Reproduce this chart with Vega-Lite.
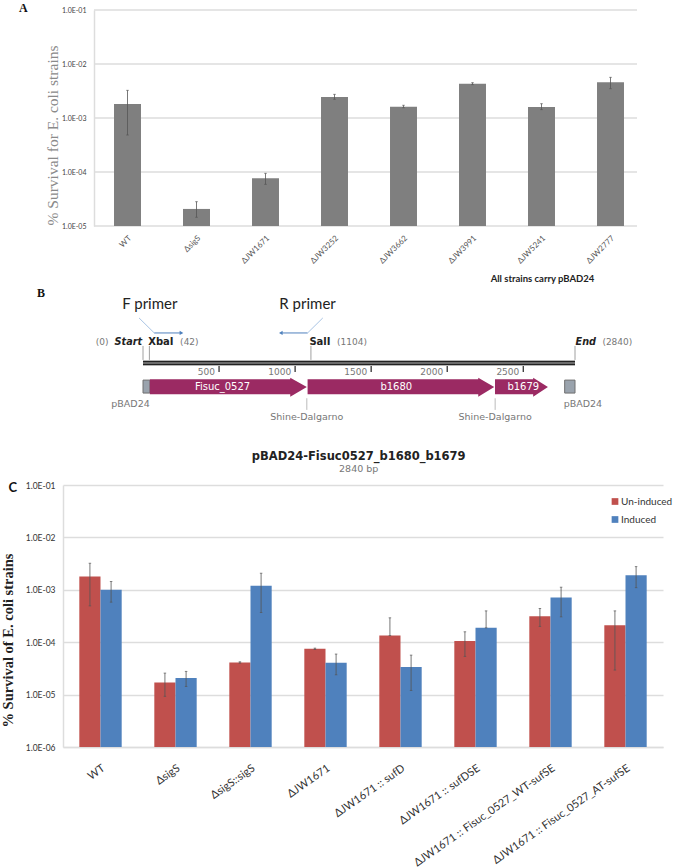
{"$schema":"https://vega.github.io/schema/vega-lite/v6.json","background":"white","padding":{"left":0,"top":2,"right":0,"bottom":0},"config":{"view":{"stroke":null},"axis":{"labelFont":"Lato"}},"bounds":"flush","spacing":0,
"datasets":{
"agrid":[{"decade":0.1,"from":0,"to":1},{"decade":0.01,"from":0,"to":1},{"decade":0.001,"from":0,"to":1},{"decade":0.0001,"from":0,"to":1},{"decade":0.00001,"from":0,"to":1}],
"a":[{"strain":"WT","value":0.00182,"low":0.000484,"high":0.00325},{"strain":"ΔsigS","value":0.0000207,"low":0.0000145,"high":0.0000282},{"strain":"ΔJW1671","value":0.0000764,"low":0.000059,"high":0.0000944},{"strain":"ΔJW3252","value":0.00245,"low":0.00222,"high":0.00274},{"strain":"ΔJW3662","value":0.00162,"low":0.00155,"high":0.00172},{"strain":"ΔJW3991","value":0.00432,"low":0.00414,"high":0.00451},{"strain":"ΔJW5241","value":0.0016,"low":0.00143,"high":0.00184},{"strain":"ΔJW2777","value":0.00457,"low":0.00349,"high":0.00566}],
"c":[{"strain":"WT","series":"Un-induced","value":0.00179,"low":0.000494,"high":0.00321},{"strain":"WT","series":"Induced","value":0.001,"low":0.000581,"high":0.00144},{"strain":"ΔsigS","series":"Un-induced","value":0.0000171,"low":0.00000925,"high":0.0000257},{"strain":"ΔsigS","series":"Induced","value":0.0000207,"low":0.0000143,"high":0.0000277},{"strain":"ΔsigS::sigS","series":"Un-induced","value":0.0000411,"low":0.0000399,"high":0.0000423},{"strain":"ΔsigS::sigS","series":"Induced","value":0.00119,"low":0.000369,"high":0.00207},{"strain":"ΔJW1671","series":"Un-induced","value":0.000075,"low":0.0000727,"high":0.000077},{"strain":"ΔJW1671","series":"Induced","value":0.0000405,"low":0.0000239,"high":0.0000593},{"strain":"ΔJW1671 :: sufD","series":"Un-induced","value":0.000134,"low":0.000134,"high":0.000292},{"strain":"ΔJW1671 :: sufD","series":"Induced","value":0.0000335,"low":0.000012,"high":0.0000566},{"strain":"ΔJW1671 :: sufDSE","series":"Un-induced","value":0.000105,"low":0.0000535,"high":0.000158},{"strain":"ΔJW1671 :: sufDSE","series":"Induced","value":0.000188,"low":0.000188,"high":0.000396},{"strain":"ΔJW1671 :: Fisuc_0527_WT-sufSE","series":"Un-induced","value":0.000314,"low":0.0002,"high":0.00044},{"strain":"ΔJW1671 :: Fisuc_0527_WT-sufSE","series":"Induced","value":0.000713,"low":0.000305,"high":0.00112},{"strain":"ΔJW1671 :: Fisuc_0527_AT-sufSE","series":"Un-induced","value":0.000211,"low":0.0000294,"high":0.000396},{"strain":"ΔJW1671 :: Fisuc_0527_AT-sufSE","series":"Induced","value":0.0019,"low":0.0011,"high":0.00277}],
"backbone":[{"part":"backbone","bp":0,"bp2":2840,"track":51.7,"track2":54.1}],
"strands":[{"bp":0,"bp2":2840,"track":52.4},{"bp":0,"bp2":2840,"track":53.4}],
"vectorEnds":[{"part":"pBAD24 left","bp":0,"bp2":45,"track":59.5,"track2":64.5},{"part":"pBAD24 right","bp":2772,"bp2":2840,"track":59.5,"track2":64.5}],
"siteTicks":[{"site":"Start","bp":0,"track":46.3,"track2":51.7},{"site":"XbaI","bp":42,"track":46.3,"track2":51.7},{"site":"SalI","bp":1104,"track":46.3,"track2":51.7},{"site":"End","bp":2840,"track":46.3,"track2":51.7}],
"scaleTicks":[{"bp":500,"track":54.1,"track2":56.4},{"bp":1000,"track":54.1,"track2":56.4},{"bp":1500,"track":54.1,"track2":56.4},{"bp":2000,"track":54.1,"track2":56.4},{"bp":2500,"track":54.1,"track2":56.4}],
"sdTicks":[{"bp":1077,"track":66.5,"track2":71},{"bp":2315,"track":66.5,"track2":71}],
"genes":[{"gene":"Fisuc_0527","bp":45,"track":59.2,"track2":65},{"gene":"Fisuc_0527","bp":968,"track":59.2,"track2":65},{"gene":"Fisuc_0527","bp":968,"track":58.6,"track2":65.9},{"gene":"Fisuc_0527","bp":1077,"track":62.2,"track2":62.2},{"gene":"b1680","bp":1082,"track":59.2,"track2":65},{"gene":"b1680","bp":2204,"track":59.2,"track2":65},{"gene":"b1680","bp":2204,"track":58.6,"track2":65.9},{"gene":"b1680","bp":2309,"track":62.2,"track2":62.2},{"gene":"b1679","bp":2314,"track":59.2,"track2":65},{"gene":"b1679","bp":2565,"track":59.2,"track2":65},{"gene":"b1679","bp":2565,"track":58.6,"track2":65.9},{"gene":"b1679","bp":2662,"track":62.2,"track2":62.2}],
"geneLabels":[{"label":"Fisuc_0527","bp":523,"track":62.2},{"label":"b1680","bp":1665,"track":62.2},{"label":"b1679","bp":2500,"track":62.2}],
"primerStems":[{"primer":"F","bp":-26,"bp2":74,"track":35.5,"track2":41.3},{"primer":"R","bp":1182,"bp2":1082,"track":35.5,"track2":41.3}],
"primerRuns":[{"primer":"F","bp":74,"bp2":253,"track":41.3,"track2":41.3},{"primer":"R","bp":1082,"bp2":906,"track":41.3,"track2":41.3}],
"primerHeads":[{"primer":"F","bp":253,"track":41.3},{"primer":"R","bp":906,"track":41.3}],
"primerLabels":[{"label":"F primer","bp":45,"track":30.1},{"label":"R primer","bp":1082,"track":30.1}],
"siteCoords":[{"label":"(0)","bp":-310,"track":44.8},{"label":"(42)","bp":244,"track":44.8},{"label":"(1104)","bp":1276,"track":44.8},{"label":"(2840)","bp":3020,"track":44.8}],
"siteNames":[{"label":"XbaI","bp":34,"track":44.8},{"label":"SalI","bp":1094,"track":44.8}],
"ends":[{"label":"Start","bp":-187,"track":44.8},{"label":"End","bp":2844,"track":44.8}],
"grayLabels":[{"label":"pBAD24","bp":-82,"track":68.8},{"label":"pBAD24","bp":2892,"track":68.8},{"label":"Shine-Dalgarno","bp":1077,"track":73.6},{"label":"Shine-Dalgarno","bp":2315,"track":73.6},{"label":"2840 bp","bp":1418,"track":93.8}],
"mapTitle":[{"label":"pBAD24-Fisuc0527_b1680_b1679","bp":1418,"track":89.2}],
"letterB":[{"label":"B","bp":-671,"track":25.9}]
},
"vconcat":[
{"width":600,"height":216,
"title":{"text":"A","anchor":"start","frame":"group","dx":-44,"offset":0,"dy":18,"baseline":"alphabetic","font":"Liberation Serif","fontSize":12,"fontWeight":"bold","color":"#111"},
"resolve":{"scale":{"x":"independent"}},
"layer":[
{"data":{"name":"agrid"},"mark":{"type":"rule","color":"#dddddd","strokeWidth":1.5},"encoding":{"x":{"field":"from","type":"quantitative","scale":{"domain":[0,1],"range":[31,574],"nice":false,"zero":false},"axis":null},"x2":{"field":"to"},
"y":{"field":"decade","type":"quantitative","scale":{"type":"log","domain":[0.00001,0.1],"nice":false},
"axis":{"offset":-31,"title":"% Survival for E. coli strains","titleFont":"Liberation Serif","titleFontSize":15.5,"titleFontWeight":"normal","titleColor":"#8a8a8a","titleX":-34,"titleY":125,"titleAlign":"center","titleAngle":-90,"values":[0.1,0.01,0.001,0.0001,0.00001],"labelExpr":"'1.0E-0' + round(-log(datum.value)/LN10)","labelFontSize":7,"labelColor":"#444","labelPadding":8,"ticks":false,"domainColor":"#dddddd","domainWidth":1.5,"grid":false}}}},
{"data":{"name":"a"},
"encoding":{"x":{"field":"strain","type":"nominal","sort":null,"scale":{"range":[30,582],"paddingInner":0.609,"paddingOuter":0.3045},
"axis":{"title":"All strains carry pBAD24","titleFont":"Lato","titleFontSize":9.5,"titleFontWeight":"bold","titleColor":"#222","titleX":479,"titleY":52,"titleBaseline":"middle","labelAngle":-45,"labelAlign":"right","labelBaseline":"top","labelFontSize":8,"labelColor":"#555","labelPadding":8,"ticks":false,"domain":false,"labelOverlap":false}}},
"layer":[
{"mark":{"type":"bar","color":"#7f7f7f"},"encoding":{"y":{"field":"value","type":"quantitative"},"y2":{"datum":0.00001}}},
{"mark":{"type":"rule","color":"#555555","strokeWidth":0.8},"encoding":{"y":{"field":"low","type":"quantitative"},"y2":{"field":"high"}}},
{"mark":{"type":"tick","color":"#555555","size":2.5,"thickness":1},"encoding":{"y":{"field":"low","type":"quantitative"}}},
{"mark":{"type":"tick","color":"#555555","size":2.5,"thickness":1},"encoding":{"y":{"field":"high","type":"quantitative"}}}
]}
]},
{"width":600,"height":259,
"encoding":{"x":{"field":"bp","type":"quantitative","scale":{"domain":[0,2840],"range":[80,512],"nice":false,"zero":false},"axis":null},"y":{"field":"track","type":"quantitative","scale":{"domain":[100,0],"nice":false,"zero":false},"axis":null}},
"layer":[
{"data":{"name":"backbone"},"mark":{"type":"rect","color":"#b5b5b5"},"encoding":{"x2":{"field":"bp2"},"y2":{"field":"track2"}}},
{"data":{"name":"strands"},"mark":{"type":"rule","color":"#222222","strokeWidth":1.6},"encoding":{"x2":{"field":"bp2"}}},
{"data":{"name":"siteTicks"},"mark":{"type":"rule","color":"#a0a0a0"},"encoding":{"y2":{"field":"track2"}}},
{"data":{"name":"scaleTicks"},"mark":{"type":"rule","color":"#333333","strokeWidth":1.3},"encoding":{"y2":{"field":"track2"}}},
{"data":{"name":"sdTicks"},"mark":{"type":"rule","color":"#bbbbbb"},"encoding":{"y2":{"field":"track2"}}},
{"data":{"name":"scaleTicks"},"mark":{"type":"text","align":"right","dx":-4,"font":"DejaVu Sans","fontSize":9,"color":"#777777"},"encoding":{"y":{"field":"track2","type":"quantitative"},"text":{"field":"bp","type":"quantitative"}}},
{"data":{"name":"vectorEnds"},"mark":{"type":"rect","color":"#9aa3ad","stroke":"#707070"},"encoding":{"x2":{"field":"bp2"},"y2":{"field":"track2"}}},
{"data":{"name":"genes"},"mark":{"type":"area","color":"#9b2a63","orient":"vertical","line":false},"encoding":{"y2":{"field":"track2"},"detail":{"field":"gene"}}},
{"data":{"name":"geneLabels"},"mark":{"type":"text","font":"DejaVu Sans","fontSize":10,"color":"white"},"encoding":{"text":{"field":"label"}}},
{"data":{"name":"primerStems"},"mark":{"type":"rule","color":"#a9c4e4","strokeWidth":1},"encoding":{"x2":{"field":"bp2"},"y2":{"field":"track2"}}},
{"data":{"name":"primerRuns"},"mark":{"type":"rule","color":"#4f81bd","strokeWidth":1},"encoding":{"x2":{"field":"bp2"},"y2":{"field":"track2"}}},
{"data":{"name":"primerHeads"},"mark":{"type":"point","filled":true,"opacity":1,"color":"#4f81bd","size":18},"encoding":{"shape":{"field":"primer","type":"nominal","scale":{"domain":["F","R"],"range":["triangle-right","triangle-left"]},"legend":null}}},
{"data":{"name":"primerLabels"},"mark":{"type":"text","font":"Lato","fontSize":15,"color":"#222222"},"encoding":{"text":{"field":"label"}}},
{"data":{"name":"siteCoords"},"mark":{"type":"text","align":"left","font":"DejaVu Sans","fontSize":9,"color":"#777777"},"encoding":{"text":{"field":"label"}}},
{"data":{"name":"siteNames"},"mark":{"type":"text","align":"left","font":"DejaVu Sans","fontSize":10,"fontWeight":"bold","color":"#222222"},"encoding":{"text":{"field":"label"}}},
{"data":{"name":"ends"},"mark":{"type":"text","align":"left","font":"DejaVu Sans","fontSize":9.7,"fontWeight":"bold","fontStyle":"italic","color":"#222222"},"encoding":{"text":{"field":"label"}}},
{"data":{"name":"grayLabels"},"mark":{"type":"text","font":"DejaVu Sans","fontSize":9.5,"color":"#777777"},"encoding":{"text":{"field":"label"}}},
{"data":{"name":"mapTitle"},"mark":{"type":"text","font":"DejaVu Sans","fontSize":11.5,"fontWeight":"bold","color":"#222222"},"encoding":{"text":{"field":"label"}}},
{"data":{"name":"letterB"},"mark":{"type":"text","font":"Liberation Serif","fontSize":12,"fontWeight":"bold","color":"#111111"},"encoding":{"text":{"field":"label"}}}
]},
{"width":600,"height":262,"data":{"name":"c"},
"title":{"text":"C","anchor":"start","frame":"group","dx":-54.5,"offset":0,"dy":24,"baseline":"alphabetic","font":"Lato","fontSize":13,"fontWeight":"bold","color":"#111"},
"encoding":{"x":{"field":"strain","type":"nominal","sort":null,"scale":{"paddingInner":0.435,"paddingOuter":0.2175},
"axis":{"title":null,"labelAngle":-35,"labelAlign":"right","labelBaseline":"top","labelFontSize":11,"labelColor":"#333333","labelPadding":15,"labelLimit":400,"ticks":false,"domainColor":"#dddddd","domainWidth":1.5,"labelOverlap":false}},
"xOffset":{"field":"series","type":"nominal","scale":{"domain":["Un-induced","Induced"]}}},
"layer":[
{"mark":{"type":"bar"},"encoding":{"color":{"field":"series","type":"nominal","scale":{"domain":["Un-induced","Induced"],"range":["#c0504d","#4f81bd"]},"legend":{"title":null,"orient":"none","legendX":547,"legendY":486.5,"symbolType":"square","symbolSize":45,"labelFont":"Lato","labelFontSize":10,"labelOffset":1,"labelColor":"#333333","rowPadding":8,"symbolOpacity":1}},
"y":{"field":"value","type":"quantitative","scale":{"type":"log","domain":[0.000001,0.1],"nice":false},
"axis":{"title":"% Survival of E. coli strains","titleFont":"Liberation Serif","titleFontSize":14.5,"titleFontWeight":"bold","titleColor":"#222222","titleX":-48,"titleY":155,"titleAlign":"center","titleAngle":-90,"values":[0.1,0.01,0.001,0.0001,0.00001,0.000001],"labelExpr":"'1.0E-0' + round(-log(datum.value)/LN10)","labelFontSize":8.5,"labelColor":"#333333","labelPadding":8,"ticks":false,"domainColor":"#dddddd","domainWidth":1.5,"grid":true,"gridColor":"#dddddd","gridWidth":1.5}},"y2":{"datum":0.000001}}},
{"mark":{"type":"rule","color":"#555555","strokeWidth":0.8},"encoding":{"y":{"field":"low","type":"quantitative"},"y2":{"field":"high"}}},
{"mark":{"type":"tick","color":"#555555","size":2.5,"thickness":1},"encoding":{"y":{"field":"low","type":"quantitative"}}},
{"mark":{"type":"tick","color":"#555555","size":2.5,"thickness":1},"encoding":{"y":{"field":"high","type":"quantitative"}}}
]}
]}
